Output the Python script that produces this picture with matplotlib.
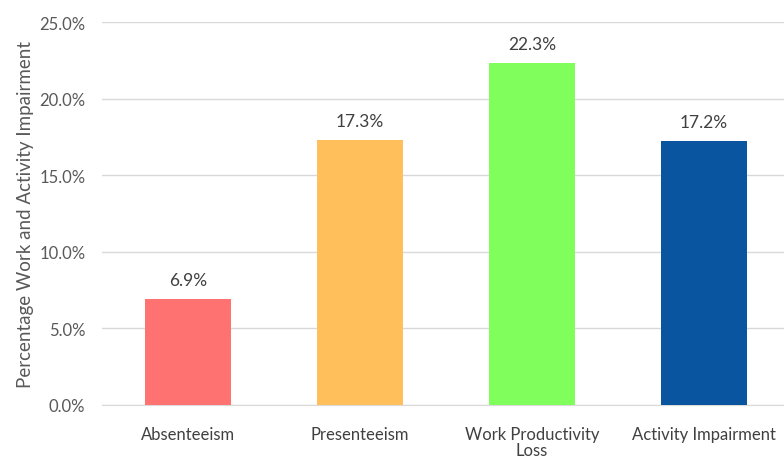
import matplotlib
matplotlib.use("Agg")
import matplotlib.pyplot as plt
from matplotlib.ticker import FuncFormatter

# WPAI outcome means
categories = ["Absenteeism", "Presenteeism", "Work Productivity\nLoss", "Activity Impairment"]
values = [6.9, 17.3, 22.3, 17.2]
colors = ["#FF7272", "#FFC05C", "#80FF5C", "#0A559F"]

plt.rcParams['font.family'] = ['Lato', 'DejaVu Sans']
txt = "#595959"

fig = plt.figure(figsize=(7.84, 4.6), dpi=100)
ax = fig.add_axes([102/784, 54/460, 688/784, 383/460])

x = range(len(categories))
bars = ax.bar(x, values, width=0.495, color=colors, zorder=3)

for b, v in zip(bars, values):
    ax.annotate(f"{v:.1f}%", (b.get_x() + b.get_width()/2, v),
                xytext=(0, 8), textcoords="offset points",
                ha="center", va="bottom", fontsize=12.5, color="#404040")

ax.set_xlim(-0.5, 3.5)
ax.set_ylim(0, 25)
ax.set_yticks([0, 5, 10, 15, 20, 25])
ax.yaxis.set_major_formatter(FuncFormatter(lambda v, p: f"{v:.1f}%"))
ax.set_xticks(list(x))
ax.set_xticklabels(categories, fontsize=12, color="#404040", linespacing=1.0)
ax.tick_params(axis="y", labelsize=12, labelcolor=txt, length=0, pad=12)
ax.tick_params(axis="x", length=0, pad=15)

ax.grid(axis="y", color="#D9D9D9", linewidth=1, zorder=0)
for s in ["top", "right", "left"]:
    ax.spines[s].set_visible(False)
ax.spines["bottom"].set_color("#D9D9D9")

ax.set_ylabel("Percentage Work and Activity Impairment", fontsize=13.5, color=txt, labelpad=4)

fig.savefig("out.png", dpi=100)
